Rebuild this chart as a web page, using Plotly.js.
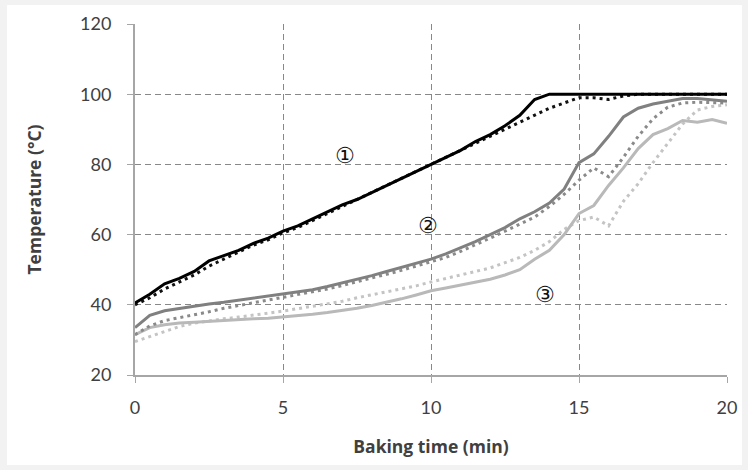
<!DOCTYPE html>
<html>
<head>
<meta charset="utf-8">
<script src="https://cdn.plot.ly/plotly-3.0.1.min.js"></script>
<style>
  html, body { margin: 0; padding: 0; background: #f2f2f2; }
  #chart { position: absolute; left: 7px; top: 5px; width: 735px; height: 460px; }
</style>
</head>
<body>
<div id="chart"></div>
<script>
// Baking time (min)
const time = [0,0.5,1,1.5,2,2.5,3,3.5,4,4.5,5,5.5,6,6.5,7,7.5,8,8.5,9,9.5,10,
              10.5,11,11.5,12,12.5,13,13.5,14,14.5,15,15.5,16,16.5,17,17.5,18,18.5,19,19.5,20];

// ① black solid / dotted
const s1Solid = [40.5,43,46,47.5,49.5,52.5,54,55.5,57.5,59,61,62.5,64.5,66.5,68.5,70,72,74,76,78,80,
                 82,84,86.5,88.5,91,94,98.5,100,100,100,100,100,100,100,100,100,100,100,100,100];
const s1Dot   = [40,42,44.5,46.5,48.5,51,53,55,57,58.5,60.5,62,64,66,68,70,72,74,76,78,80,
                 82,84,86,88,90,92,94,96,97.5,99,99,98.5,99.5,100,100,100,100,100,100,100];

// ② dark grey solid / dotted
const s2Solid = [33.5,37,38.3,39,39.5,40.2,40.7,41.3,41.8,42.3,43,43.5,44.3,45.2,46.2,47.3,48.3,49.5,50.7,51.8,53,
                 54.5,56.2,58,60,62,64.5,66.5,69,73,80.5,83,88,93.5,96,97.2,98,98.8,98.8,98.5,98];
const s2Dot   = [31.5,34,35.5,36.3,37,38,39,39.8,40.5,41.2,42.2,42.8,43.6,44.5,45.5,46.5,47.5,48.7,49.8,51,52.2,
                 53.5,55.2,57,59,61,63,65,68,71.5,75.5,79,76.5,82,88,93,96.3,97.5,97.7,97.7,97.5];

// ③ light grey solid / dotted
const s3Solid = [31.5,33.5,34.3,34.8,35,35.3,35.5,35.7,36,36.2,36.5,36.9,37.3,37.8,38.3,39,39.8,40.7,41.7,42.8,44,
                 44.8,45.6,46.5,47.3,48.5,50,53,55.5,60,66,68.3,74,79,84.5,88.5,90.2,92.5,92,92.8,91.7];
const s3Dot   = [29.5,31,32.5,33.8,34.8,35.5,36,36.5,37,37.5,38.2,38.9,39.6,40.3,41,42,42.8,43.6,44.5,45.4,46.5,
                 47.5,48.5,49.5,50.5,52,53.5,55.5,58,61.5,64,65,62.5,69.5,74.5,80.5,86,91.5,95.5,96.5,97];

const xTicks = [0,5,10,15,20];
const yTicks = [20,40,60,80,100,120];
const labels = ['①','②','③'];
const labelX = [7.1, 9.9, 13.85];
const labelY = [82.6, 62.6, 42.9];

const mk = (y, color, dotted) => ({
  x: time, y: y, type: 'scatter', mode: 'lines', showlegend: false, hoverinfo: 'skip',
  line: { color: color, width: 3, dash: dotted ? '3px,4px' : 'solid', shape: 'linear' }
});

const traces = [
  mk(s3Dot, '#c4c4c4', true),
  mk(s3Solid, '#b9b9b9', false),
  mk(s2Dot, '#8a8a8a', true),
  mk(s2Solid, '#808080', false),
  mk(s1Dot, '#111111', true),
  mk(s1Solid, '#000000', false)
];

const axisFont = { family: 'Lato, "Open Sans", sans-serif', size: 18, color: '#404040' };
const titleFont = { family: '"Open Sans", Lato, sans-serif', size: 17.5, color: '#404040' };

const layout = {
  width: 735, height: 460,
  margin: { l: 128, r: 15, t: 19, b: 90 },
  paper_bgcolor: '#ffffff', plot_bgcolor: '#ffffff',
  xaxis: {
    range: [0, 20], tickvals: xTicks, ticktext: xTicks.map(String),
    showgrid: true, gridcolor: '#888888', gridwidth: 1, griddash: '6px,4px',
    zeroline: false, showline: true, linecolor: '#a6a6a6', linewidth: 2,
    ticks: 'outside', ticklen: 6, tickcolor: '#a6a6a6', tickwidth: 1,
    ticklabelstandoff: 9,
    tickfont: axisFont,
    title: { text: '<b>Baking time (min)</b>', font: titleFont, standoff: 24 }
  },
  yaxis: {
    range: [20, 120], tickvals: yTicks, ticktext: yTicks.map(String),
    showgrid: true, gridcolor: '#888888', gridwidth: 1, griddash: '6px,4px',
    zeroline: false, showline: true, linecolor: '#a6a6a6', linewidth: 2,
    ticks: 'outside', ticklen: 6, tickcolor: '#a6a6a6', tickwidth: 1,
    ticklabelstandoff: 12,
    tickfont: axisFont,
    title: { text: '<b>Temperature (°C)</b>', font: titleFont, standoff: 34 }
  },
  annotations: labels.map((t, i) => ({
    x: labelX[i], y: labelY[i], xref: 'x', yref: 'y', text: t, showarrow: false,
    font: { family: '"DejaVu Sans", sans-serif', size: 22, color: '#111111' }
  }))
};

Plotly.newPlot('chart', traces, layout, { staticPlot: true, displayModeBar: false });
</script>
</body>
</html>
